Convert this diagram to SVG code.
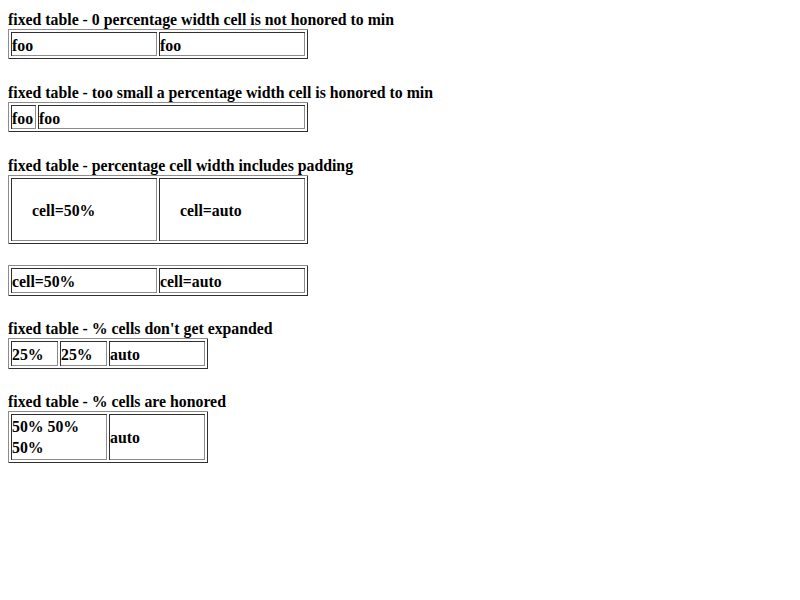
<svg xmlns="http://www.w3.org/2000/svg" width="800" height="600" viewBox="0 0 800 600">
<style>
text{font-family:"Liberation Serif","Times New Roman",serif;font-weight:bold;font-size:15.8px;fill:#000}
polyline{fill:none;stroke-width:1;shape-rendering:crispEdges}
.lt{stroke:#8c8c8c}
.dk{stroke:#303030}
</style>
<rect width="800" height="600" fill="#fff"/>
<g id="titles">
<text x="8" y="25">fixed table - 0 percentage width cell is not honored to min</text>
<text x="8" y="98">fixed table - too small a percentage width cell is honored to min</text>
<text x="8" y="171">fixed table - percentage cell width includes padding</text>
<text x="8" y="334">fixed table - % cells don't get expanded</text>
<text x="8" y="407">fixed table - % cells are honored</text>
</g>
<g id="table1">
<polyline class="lt" points="8.5,59 8.5,29.5 308,29.5"/>
<polyline class="dk" points="9,58.5 307.5,58.5 307.5,30"/>
<polyline class="dk" points="11.5,56 11.5,32.5 157,32.5"/>
<polyline class="lt" points="12,55.5 156.5,55.5 156.5,33"/>
<polyline class="dk" points="159.5,56 159.5,32.5 305,32.5"/>
<polyline class="lt" points="160,55.5 304.5,55.5 304.5,33"/>
<text x="12" y="51">foo</text>
<text x="160" y="51">foo</text>
</g>
<g id="table2">
<polyline class="lt" points="8.5,132 8.5,102.5 308,102.5"/>
<polyline class="dk" points="9,131.5 307.5,131.5 307.5,103"/>
<polyline class="dk" points="11.5,129 11.5,105.5 36,105.5"/>
<polyline class="lt" points="12,128.5 35.5,128.5 35.5,106"/>
<polyline class="dk" points="38.5,129 38.5,105.5 305,105.5"/>
<polyline class="lt" points="39,128.5 304.5,128.5 304.5,106"/>
<text x="12" y="124">foo</text>
<text x="39" y="124">foo</text>
</g>
<g id="table3">
<polyline class="lt" points="8.5,244 8.5,175.5 308,175.5"/>
<polyline class="dk" points="9,243.5 307.5,243.5 307.5,176"/>
<polyline class="dk" points="11.5,241 11.5,178.5 157,178.5"/>
<polyline class="lt" points="12,240.5 156.5,240.5 156.5,179"/>
<polyline class="dk" points="159.5,241 159.5,178.5 305,178.5"/>
<polyline class="lt" points="160,240.5 304.5,240.5 304.5,179"/>
<text x="32" y="216">cell=50%</text>
<text x="180" y="216">cell=auto</text>
</g>
<g id="table4">
<polyline class="lt" points="8.5,296 8.5,265.5 308,265.5"/>
<polyline class="dk" points="9,295.5 307.5,295.5 307.5,266"/>
<polyline class="dk" points="11.5,293 11.5,268.5 157,268.5"/>
<polyline class="lt" points="12,292.5 156.5,292.5 156.5,269"/>
<polyline class="dk" points="159.5,293 159.5,268.5 305,268.5"/>
<polyline class="lt" points="160,292.5 304.5,292.5 304.5,269"/>
<text x="12" y="287">cell=50%</text>
<text x="160" y="287">cell=auto</text>
</g>
<g id="table5">
<polyline class="lt" points="8.5,369 8.5,338.5 208,338.5"/>
<polyline class="dk" points="9,368.5 207.5,368.5 207.5,339"/>
<polyline class="dk" points="11.5,366 11.5,341.5 58,341.5"/>
<polyline class="lt" points="12,365.5 57.5,365.5 57.5,342"/>
<polyline class="dk" points="60.5,366 60.5,341.5 107,341.5"/>
<polyline class="lt" points="61,365.5 106.5,365.5 106.5,342"/>
<polyline class="dk" points="109.5,366 109.5,341.5 205,341.5"/>
<polyline class="lt" points="110,365.5 204.5,365.5 204.5,342"/>
<text x="12" y="360">25%</text>
<text x="61" y="360">25%</text>
<text x="110" y="360">auto</text>
</g>
<g id="table6">
<polyline class="lt" points="8.5,463 8.5,411.5 208,411.5"/>
<polyline class="dk" points="9,462.5 207.5,462.5 207.5,412"/>
<polyline class="dk" points="11.5,460 11.5,414.5 107,414.5"/>
<polyline class="lt" points="12,459.5 106.5,459.5 106.5,415"/>
<polyline class="dk" points="109.5,460 109.5,414.5 205,414.5"/>
<polyline class="lt" points="110,459.5 204.5,459.5 204.5,415"/>
<text x="12" y="432">50% 50%</text>
<text x="12" y="453">50%</text>
<text x="110" y="443">auto</text>
</g>
</svg>
